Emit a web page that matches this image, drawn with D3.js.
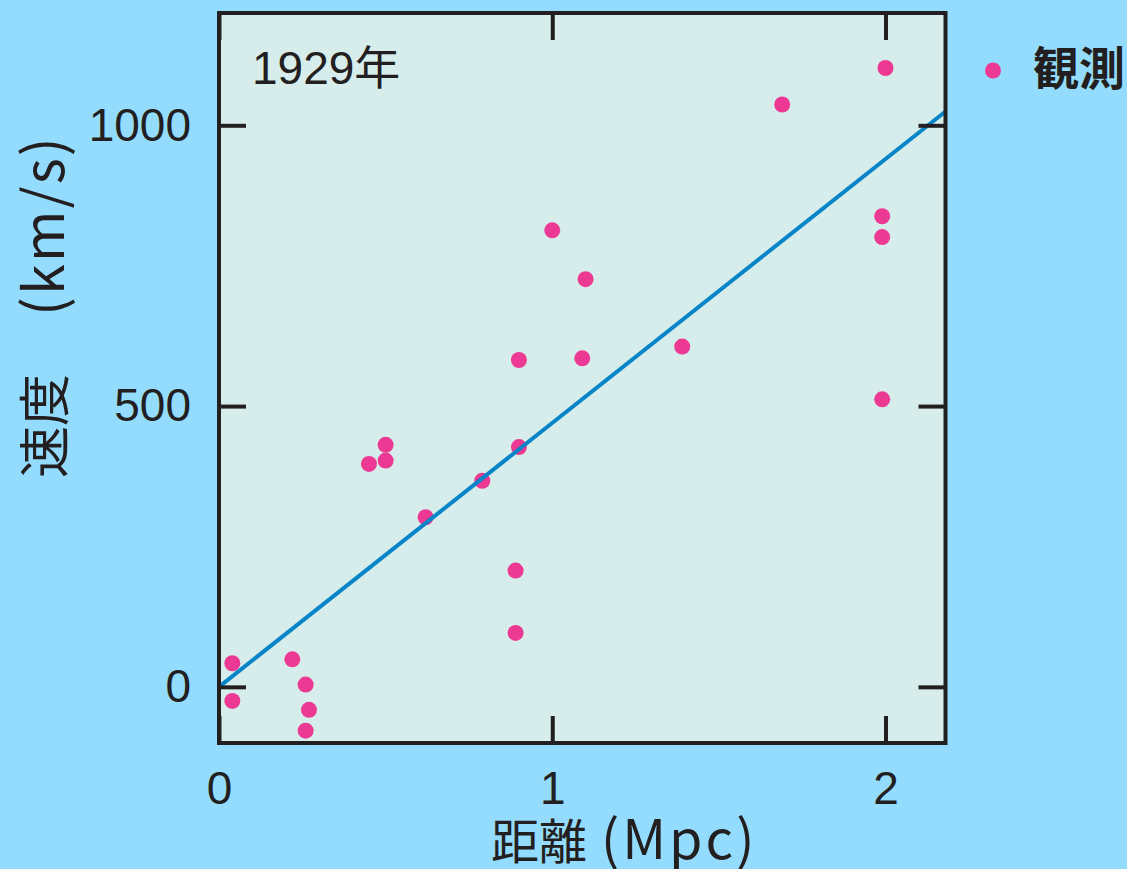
<!DOCTYPE html>
<html lang="ja">
<head>
<meta charset="utf-8">
<script src="https://cdn.jsdelivr.net/npm/d3@7"></script>
<style>
  html, body { margin: 0; padding: 0; background: #93dcfd; }
  svg { display: block; }
</style>
</head>
<body>
<svg id="chart" width="1127" height="869"></svg>
<script>
// Hubble's 1929 galaxy sample: distance (Mpc) and recession velocity (km/s)
const distances  = [0.04, 0.04, 0.22, 0.26, 0.27, 0.26, 0.45, 0.50, 0.50, 0.62, 0.79, 0.90,
                    0.90, 0.89, 0.89, 1.00, 1.10, 1.09, 1.39, 1.69, 2.00, 1.99, 1.99, 1.99];
const velocities = [42, -25, 49, 4, -41, -78, 397, 431, 403, 302, 367, 427,
                    582, 207, 96, 813, 726, 585, 606, 1037, 1102, 838, 801, 512];

// Fitted proportional relation v = H * d
const hubbleSlope = 470;

const xTicks = [0, 1, 2];
const yTicks = [0, 500, 1000];
const xDomain = [0, 2.18];
const yDomain = [-100, 1200];

const yearLabel = "1929年";
const legendLabel = "観測";
const xTitleMain = "距離";
const xTitleUnit = "(Mpc)";
const yTitleMain = "速度";
const yTitleUnit = "(km/s)";

const colors = {
  plotBg: "#d6edeb",
  frame: "#231f20",
  dot: "#ec3a94",
  fit: "#0884c8",
  text: "#231f20"
};

const svg = d3.select("#chart");
const plot = { left: 219, right: 945.5, top: 13, bottom: 743 };

const x = d3.scaleLinear().domain(xDomain).range([plot.left, plot.right]);
const y = d3.scaleLinear().domain(yDomain).range([plot.bottom, plot.top]);

const numFont = "'Liberation Sans', Arial, 'Noto Sans CJK JP', sans-serif";
const cjkFont = "'Noto Sans CJK JP', 'Noto Sans', sans-serif";

// plot area background
svg.append("rect")
  .attr("x", plot.left).attr("y", plot.top)
  .attr("width", plot.right - plot.left).attr("height", plot.bottom - plot.top)
  .attr("fill", colors.plotBg);

// observations
const points = distances.map((d, i) => ({ d, v: velocities[i] }));
svg.append("g").selectAll("circle")
  .data(points)
  .join("circle")
  .attr("cx", p => x(p.d))
  .attr("cy", p => y(p.v))
  .attr("r", 8)
  .attr("fill", colors.dot);

// fitted line through the origin
const fitLine = d3.line().x(p => x(p[0])).y(p => y(p[1]));
svg.append("path")
  .datum([[0, 0], [xDomain[1], hubbleSlope * xDomain[1]]])
  .attr("d", fitLine)
  .attr("fill", "none")
  .attr("stroke", colors.fit)
  .attr("stroke-width", 4);

// axes: inward ticks on all four sides, labels on left and bottom
const tickLen = 27;
function styleAxis(g) {
  g.select(".domain").remove();
  g.selectAll(".tick line").attr("stroke", colors.frame).attr("stroke-width", 4);
  g.selectAll(".tick text")
    .attr("fill", colors.text)
    .attr("font-family", numFont)
    .attr("font-size", 46);
}

svg.append("g")
  .attr("transform", `translate(${plot.left},0)`)
  .call(d3.axisLeft(y).tickValues(yTicks).tickSizeInner(-tickLen).tickSizeOuter(0).tickPadding(28).tickFormat(d3.format("d")))
  .call(styleAxis);

svg.append("g")
  .attr("transform", `translate(${plot.right},0)`)
  .call(d3.axisRight(y).tickValues(yTicks).tickSizeInner(-tickLen).tickSizeOuter(0).tickFormat(""))
  .call(styleAxis);

svg.append("g")
  .attr("transform", `translate(0,${plot.bottom})`)
  .call(d3.axisBottom(x).tickValues(xTicks).tickSizeInner(-tickLen).tickSizeOuter(0).tickPadding(28).tickFormat(d3.format("d")))
  .call(styleAxis);

svg.append("g")
  .attr("transform", `translate(0,${plot.top})`)
  .call(d3.axisTop(x).tickValues(xTicks).tickSizeInner(-tickLen).tickSizeOuter(0).tickFormat(""))
  .call(styleAxis);

// frame
svg.append("rect")
  .attr("x", plot.left).attr("y", plot.top)
  .attr("width", plot.right - plot.left).attr("height", plot.bottom - plot.top)
  .attr("fill", "none")
  .attr("stroke", colors.frame)
  .attr("stroke-width", 4);

// year label inside the plot
svg.append("text")
  .attr("x", 252).attr("y", 84)
  .attr("font-family", numFont)
  .attr("font-size", 46)
  .attr("fill", colors.text)
  .text(yearLabel);

// legend
svg.append("circle")
  .attr("cx", 993).attr("cy", 70.5).attr("r", 8)
  .attr("fill", colors.dot);
svg.append("text")
  .attr("x", 1033).attr("y", 85)
  .attr("font-family", cjkFont)
  .attr("font-weight", 700)
  .attr("font-size", 46)
  .attr("fill", colors.text)
  .text(legendLabel);

// x axis title
const xt = svg.append("text")
  .attr("x", 491).attr("y", 859)
  .attr("font-family", cjkFont)
  .attr("font-size", 48)
  .attr("fill", colors.text);
xt.append("tspan").text(xTitleMain);
xt.append("tspan").attr("dx", 14).attr("font-size", 54).attr("letter-spacing", 3).text(xTitleUnit);

// y axis title, reading bottom to top
const yt = svg.append("text")
  .attr("transform", "translate(64,478) rotate(-90)")
  .attr("font-family", cjkFont)
  .attr("font-size", 52)
  .attr("fill", colors.text);
yt.append("tspan").text(yTitleMain);
yt.append("tspan").attr("dx", 58).attr("font-size", 56).attr("letter-spacing", 2).text(yTitleUnit);
</script>
</body>
</html>
